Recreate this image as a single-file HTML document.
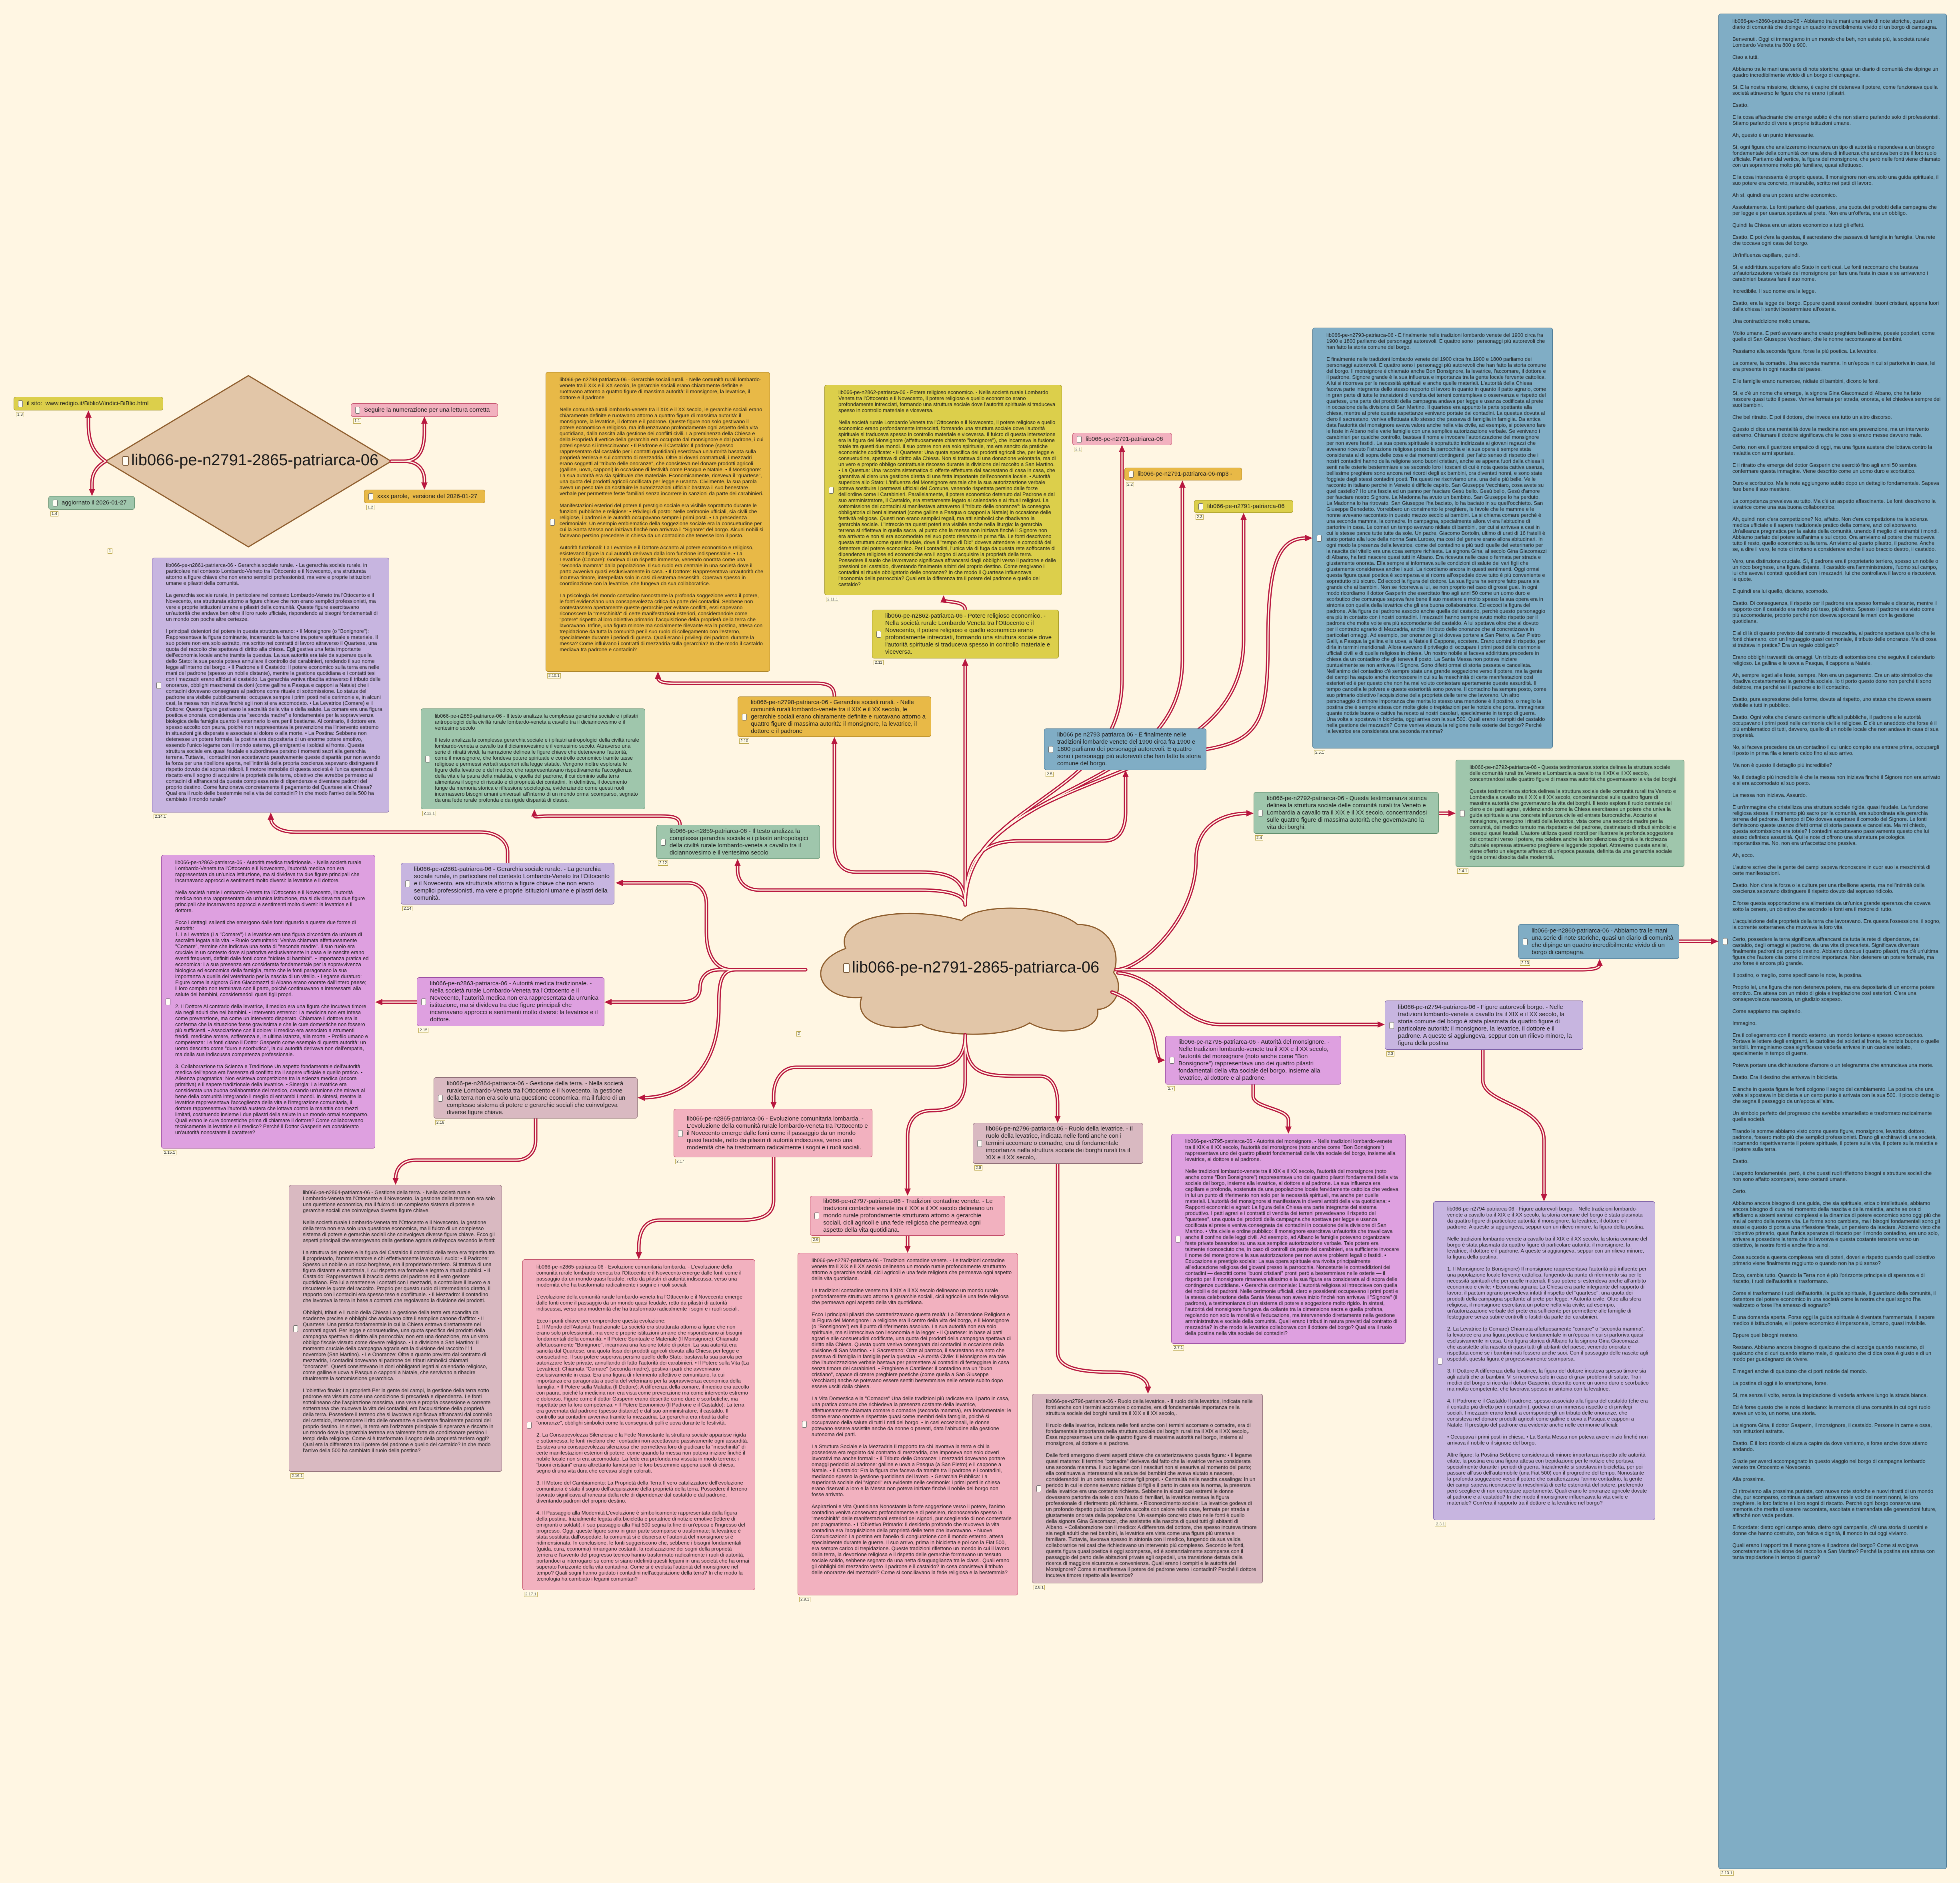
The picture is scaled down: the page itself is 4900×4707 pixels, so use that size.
<!DOCTYPE html>
<html lang="it">
<head>
<meta charset="utf-8">
<style>
html,body{margin:0;padding:0;}
body{width:4900px;height:4707px;background:#fff6e3;position:relative;overflow:hidden;font-family:"Liberation Sans Narrow","Liberation Sans",Arial,sans-serif;color:#1e1e1e;}
svg.wires{position:absolute;left:0;top:0;z-index:1;}
.n{position:absolute;z-index:2;box-sizing:border-box;border:1.5px solid #777;border-radius:6px;overflow:hidden;}
.d{font-size:13px;line-height:15px;padding:10px 14px 8px 34px;}
.d p{margin:0 0 15px 0;}
.s{font-size:15px;line-height:18px;padding:6px 10px 6px 32px;display:flex;align-items:center;}
.n::before{content:"";position:absolute;left:10px;top:50%;width:10px;height:15px;margin-top:-8px;background:#fffdf6;border:1.5px solid #666;border-radius:3px;}
.or{background:#e8b947;border-color:#a77d1e;}
.ye{background:#dccf4b;border-color:#9d9222;}
.pk{background:#f2b1bf;border-color:#c04764;}
.bl{background:#80adc5;border-color:#41708c;}
.gr{background:#9fc6ac;border-color:#5d8c6b;}
.pu{background:#c7b5e0;border-color:#7a5ea6;}
.mg{background:#dea0e0;border-color:#9b4da2;}
.rb{background:#d9b9c1;border-color:#8c6b74;}
.lb{position:absolute;z-index:2;font-size:10px;line-height:11px;padding:0 2px;border:1px solid #b9a548;background:#fffbe6;color:#333;font-family:"Liberation Sans Narrow","Liberation Sans",sans-serif;}
.big{position:absolute;z-index:3;font-size:40px;white-space:nowrap;color:#1a1a1a;}
.big::before{content:"";display:inline-block;width:12px;height:20px;border:2px solid #7a5a3a;border-radius:3px;background:#fffdf6;margin-right:6px;vertical-align:middle;}
</style>
</head>
<body>

<svg class="wires" width="4900" height="4707" viewBox="0 0 4900 4707">
<defs>
<g id="w">
<path d="M264 1153 C230 1130 221 1100 221 1060 L221 1040"/>
<path d="M264 1153 C235 1170 230 1190 230 1210 L230 1225"/>
<path d="M978 1153 L1010 1153 C1050 1153 1061 1120 1061 1080 L1061 1055"/>
<path d="M978 1153 L1010 1153 C1050 1153 1061 1180 1061 1200 L1061 1210"/>
<path d="M2413 2262 L2413 1660"/>
<path d="M2413 2262 C2413 2000 2805 2000 2805 1700 L2805 1126"/>
<path d="M2413 2262 C2413 1950 2956 2000 2956 1650 L2956 1215"/>
<path d="M2413 2262 C2413 1900 3109 2000 3109 1600 L3109 1296"/>
<path d="M2413 2262 C2413 2150 2450 2102 2550 2102 L2760 2102 C2800 2102 2814 2070 2814 2030 L2814 1939"/>
<path d="M2413 2262 C2413 2200 2380 2180 2300 2180 L2140 2180 C2100 2180 2086 2150 2086 2110 L2086 1856"/>
<path d="M2413 2262 C2413 2240 2380 2225 2300 2225 L1900 2225 C1860 2225 1844 2200 1844 2175 L1844 2161"/>
<path d="M2014 2424 L1830 2424 C1790 2424 1766 2390 1766 2330 L1766 2260 C1766 2230 1750 2207 1720 2207 L1553 2207"/>
<path d="M2014 2424 L1800 2424 C1760 2424 1750 2450 1750 2470 C1750 2495 1730 2505 1700 2505 L1525 2505"/>
<path d="M2014 2424 L1840 2424 C1800 2424 1797 2460 1797 2520 C1797 2680 1700 2744 1608 2744"/>
<path d="M1042 2505 L952 2505"/>
<path d="M1339 2796 L1339 2850 C1339 2880 1320 2900 1290 2900 L1040 2900 C1005 2900 989 2920 989 2948"/>
<path d="M1269 2157 L1269 2130 C1269 2100 1240 2080 1200 2080 L740 2080 C700 2080 677 2065 677 2045"/>
<path d="M1700 2062 C1700 2042 1680 2040 1650 2040 L1370 2040 C1345 2040 1336 2045 1336 2037"/>
<path d="M2086 1741 C2086 1715 2070 1708 2040 1708 L1690 1708 C1660 1708 1645 1705 1645 1693"/>
<path d="M2413 1524 C2413 1505 2380 1505 2359 1502"/>
<path d="M3016 1873 C3150 1850 3170 1800 3170 1600 C3170 1400 3200 1345 3267 1345"/>
<path d="M2790 2424 C2850 2424 2990 2300 2990 2150 C2990 2060 3060 2033 3120 2033"/>
<path d="M3597 2033 L3625 2033"/>
<path d="M2795 2424 L3950 2424 C3985 2424 3999 2420 3999 2411"/>
<path d="M4198 2353 L4282 2353"/>
<path d="M2795 2432 C2900 2440 2950 2561 3050 2561 L3448 2561"/>
<path d="M2780 2480 C2860 2510 2880 2560 2890 2620 C2895 2645 2900 2650 2899 2650"/>
<path d="M3707 2624 L3707 2700 C3707 2760 3860 2760 3860 2850 L3860 2989"/>
<path d="M3133 2711 L3133 2740 C3133 2770 3221 2770 3221 2800 L3221 2820"/>
<path d="M2413 2587 C2413 2680 2450 2690 2540 2690 L2600 2690 C2630 2690 2644 2720 2644 2760 L2644 2793"/>
<path d="M2644 2909 L2644 3380 C2644 3420 2700 3430 2780 3430 C2840 3430 2870 3445 2870 3470"/>
<path d="M2413 2587 L2413 2700 C2413 2760 2380 2776 2330 2776 C2290 2776 2269 2800 2269 2840 L2269 2975"/>
<path d="M2269 3089 L2269 3118"/>
<path d="M2413 2587 C2413 2640 2390 2668 2330 2668 L1990 2668 C1955 2668 1934 2700 1934 2740 L1934 2758"/>
<path d="M1934 2893 L1934 3000 C1934 3040 1900 3050 1850 3050 L1650 3050 C1610 3050 1597 3080 1597 3120 L1597 3134"/>
</g>
</defs>
<polygon points="621,939 978,1153 621,1367 264,1153" fill="#e2c6a8" stroke="#8f5e2e" stroke-width="3"/>
<path transform="translate(2014,2261)" d="M100 110 C70 30 250 0 390 40 C430 -5 620 0 680 50 C760 50 790 120 770 170 C800 210 770 262 730 262 C740 322 620 330 560 296 C500 336 330 330 290 300 C200 322 120 292 140 232 C40 242 -10 150 100 110 Z" fill="#e2c6a8" stroke="#8f5e2e" stroke-width="3"/>
<use href="#w" fill="none" stroke="#b8173f" stroke-width="9" stroke-linecap="round" stroke-linejoin="round"/>
<use href="#w" fill="none" stroke="#fff6e3" stroke-width="3" stroke-linecap="round" stroke-linejoin="round"/>
<g fill="#b8173f">
<polygon points="221,1026 213,1044 229,1044"/>
<polygon points="230,1240 222,1222 238,1222"/>
<polygon points="1061,1041 1053,1059 1069,1059"/>
<polygon points="1061,1224 1053,1206 1069,1206"/>
<polygon points="2413,1646 2405,1664 2421,1664"/>
<polygon points="2805,1112 2797,1130 2813,1130"/>
<polygon points="2956,1201 2948,1219 2964,1219"/>
<polygon points="3109,1282 3101,1300 3117,1300"/>
<polygon points="2814,1925 2806,1943 2822,1943"/>
<polygon points="2086,1842 2078,1860 2094,1860"/>
<polygon points="1844,2147 1836,2165 1852,2165"/>
<polygon points="1539,2207 1557,2199 1557,2215"/>
<polygon points="1511,2505 1529,2497 1529,2513"/>
<polygon points="1594,2744 1612,2736 1612,2752"/>
<polygon points="938,2505 956,2497 956,2513"/>
<polygon points="989,2962 981,2944 997,2944"/>
<polygon points="677,2031 669,2049 685,2049"/>
<polygon points="1336,2023 1328,2041 1344,2041"/>
<polygon points="1645,1679 1637,1697 1653,1697"/>
<polygon points="2359,1488 2351,1506 2367,1506"/>
<polygon points="3281,1345 3263,1337 3263,1353"/>
<polygon points="3134,2033 3116,2025 3116,2041"/>
<polygon points="3639,2033 3621,2025 3621,2041"/>
<polygon points="3999,2397 3991,2415 4007,2415"/>
<polygon points="4296,2353 4278,2345 4278,2361"/>
<polygon points="3462,2561 3444,2553 3444,2569"/>
<polygon points="2913,2650 2895,2642 2895,2658"/>
<polygon points="3860,3003 3852,2985 3868,2985"/>
<polygon points="3221,2834 3213,2816 3229,2816"/>
<polygon points="2644,2807 2636,2789 2652,2789"/>
<polygon points="2870,3484 2862,3466 2878,3466"/>
<polygon points="2269,2989 2261,2971 2277,2971"/>
<polygon points="2269,3132 2261,3114 2277,3114"/>
<polygon points="1934,2772 1926,2754 1942,2754"/>
<polygon points="1597,3148 1589,3130 1605,3130"/>
</g>
</svg>

<div class="big" style="left:306px;top:1128px;">lib066-pe-n2791-2865-patriarca-06</div>
<div class="big" style="left:2108px;top:2396px;">lib066-pe-n2791-2865-patriarca-06</div>
<div class="lb" style="left:269px;top:1371px;">1</div>
<div class="lb" style="left:1991px;top:2578px;">2</div>

<div class="n s ye" style="left:34px;top:992px;width:374px;height:34px;">il sito:&nbsp; www.redigio.it/BiblioV/indici-BiBlio.html</div>
<div class="lb" style="left:40px;top:1030px;">1.3</div>
<div class="n s pk" style="left:877px;top:1008px;width:368px;height:34px;">Seguire la numerazione per una lettura corretta</div>
<div class="lb" style="left:883px;top:1046px;">1.1</div>
<div class="n s or" style="left:910px;top:1224px;width:303px;height:34px;">xxxx parole,&nbsp; versione del 2026-01-27</div>
<div class="lb" style="left:916px;top:1262px;">1.2</div>
<div class="n s gr" style="left:121px;top:1240px;width:216px;height:34px;">aggiornato il 2026-01-27</div>
<div class="lb" style="left:126px;top:1278px;">1.4</div>

<div class="n s pk" style="left:2681px;top:1082px;width:249px;height:31px;">lib066-pe-n2791-patriarca-06</div>
<div class="lb" style="left:2685px;top:1117px;">2.1</div>
<div class="n s or" style="left:2811px;top:1169px;width:294px;height:32px;">lib066-pe-n2791-patriarca-06-mp3 -</div>
<div class="lb" style="left:2815px;top:1205px;">2.2</div>
<div class="n s ye" style="left:2985px;top:1250px;width:248px;height:32px;">lib066-pe-n2791-patriarca-06</div>
<div class="lb" style="left:2989px;top:1286px;">2.3</div>

<div class="n s ye" style="left:2180px;top:1524px;width:467px;height:122px;">lib066-pe-n2862-patriarca-06 - Potere religioso economico. - Nella società rurale Lombardo Veneta tra l'Ottocento e il Novecento, il potere religioso e quello economico erano profondamente intrecciati, formando una struttura sociale dove l'autorità spirituale si traduceva spesso in controllo materiale e viceversa.</div>
<div class="lb" style="left:2184px;top:1650px;">2.11</div>

<div class="n s bl" style="left:2610px;top:1821px;width:406px;height:104px;">lib066 pe n2793 patriarca 06 - E finalmente nelle tradizioni lombarde venete del 1900 circa fra 1900 e 1800 parliamo dei personaggi autorevoli. E quattro sono i personaggi più autorevoli che han fatto la storia comune del borgo.</div>
<div class="lb" style="left:2614px;top:1929px;">2.5</div>

<div class="n s or" style="left:1844px;top:1741px;width:484px;height:101px;">lib066-pe-n2798-patriarca-06 - Gerarchie sociali rurali. - Nelle comunità rurali lombardo-venete tra il XIX e il XX secolo, le gerarchie sociali erano chiaramente definite e ruotavano attorno a quattro figure di massima autorità: il monsignore, la levatrice, il dottore e il padrone</div>
<div class="lb" style="left:1848px;top:1846px;">2.10</div>

<div class="n s gr" style="left:1641px;top:2062px;width:409px;height:85px;">lib066-pe-n2859-patriarca-06 - Il testo analizza la complessa gerarchia sociale e i pilastri antropologici della civiltà rurale lombardo-veneta a cavallo tra il diciannovesimo e il ventesimo secolo</div>
<div class="lb" style="left:1645px;top:2151px;">2.12</div>

<div class="n s pu" style="left:1002px;top:2157px;width:534px;height:104px;">lib066-pe-n2861-patriarca-06 - Gerarchia sociale rurale. - La gerarchia sociale rurale, in particolare nel contesto Lombardo-Veneto tra l'Ottocento e il Novecento, era strutturata attorno a figure chiave che non erano semplici professionisti, ma vere e proprie istituzioni umane e pilastri della comunità.</div>
<div class="lb" style="left:1006px;top:2265px;">2.14</div>

<div class="n s gr" style="left:3134px;top:1980px;width:463px;height:104px;">lib066-pe-n2792-patriarca-06 - Questa testimonianza storica delinea la struttura sociale delle comunità rurali tra Veneto e Lombardia a cavallo tra il XIX e il XX secolo, concentrandosi sulle quattro figure di massima autorità che governavano la vita dei borghi.</div>
<div class="lb" style="left:3138px;top:2088px;">2.4</div>

<div class="n s bl" style="left:3796px;top:2310px;width:402px;height:87px;">lib066-pe-n2860-patriarca-06 - Abbiamo tra le mani una serie di note storiche, quasi un diario di comunità che dipinge un quadro incredibilmente vivido di un borgo di campagna.</div>
<div class="lb" style="left:3800px;top:2401px;">2.13</div>

<div class="n s pu" style="left:3462px;top:2501px;width:496px;height:123px;">lib066-pe-n2794-patriarca-06 - Figure autorevoli borgo. - Nelle tradizioni lombardo-venete a cavallo tra il XIX e il XX secolo, la storia comune del borgo è stata plasmata da quattro figure di particolare autorità: il monsignore, la levatrice, il dottore e il padrone. A queste si aggiungeva, seppur con un rilievo minore, la figura della postina</div>
<div class="lb" style="left:3466px;top:2628px;">2.3</div>

<div class="n s mg" style="left:2913px;top:2589px;width:440px;height:122px;">lib066-pe-n2795-patriarca-06 - Autorità del monsignore. - Nelle tradizioni lombardo-venete tra il XIX e il XX secolo, l'autorità del monsignore (noto anche come "Bon Bonsignore") rappresentava uno dei quattro pilastri fondamentali della vita sociale del borgo, insieme alla levatrice, al dottore e al padrone.</div>
<div class="lb" style="left:2917px;top:2715px;">2.7</div>

<div class="n s rb" style="left:2432px;top:2807px;width:426px;height:102px;">lib066-pe-n2796-patriarca-06 - Ruolo della levatrice. - Il ruolo della levatrice, indicata nelle fonti anche con i termini accomare o comadre, era di fondamentale importanza nella struttura sociale dei borghi rurali tra il XIX e il XX secolo,.</div>
<div class="lb" style="left:2436px;top:2913px;">2.8</div>

<div class="n s mg" style="left:1042px;top:2443px;width:469px;height:122px;">lib066-pe-n2863-patriarca-06 - Autorità medica tradizionale. - Nella società rurale Lombardo-Veneta tra l'Ottocento e il Novecento, l'autorità medica non era rappresentata da un'unica istituzione, ma si divideva tra due figure principali che incarnavano approcci e sentimenti molto diversi: la levatrice e il dottore.</div>
<div class="lb" style="left:1046px;top:2569px;">2.15</div>

<div class="n s rb" style="left:1084px;top:2693px;width:510px;height:103px;">lib066-pe-n2864-patriarca-06 - Gestione della terra. - Nella società rurale Lombardo-Veneta tra l'Ottocento e il Novecento, la gestione della terra non era solo una questione economica, ma il fulcro di un complesso sistema di potere e gerarchie sociali che coinvolgeva diverse figure chiave.</div>
<div class="lb" style="left:1088px;top:2800px;">2.16</div>

<div class="n s pk" style="left:1684px;top:2772px;width:497px;height:121px;">lib066-pe-n2865-patriarca-06 - Evoluzione comunitaria lombarda. - L'evoluzione della comunità rurale lombardo-veneta tra l'Ottocento e il Novecento emerge dalle fonti come il passaggio da un mondo quasi feudale, retto da pilastri di autorità indiscussa, verso una modernità che ha trasformato radicalmente i sogni e i ruoli sociali.</div>
<div class="lb" style="left:1688px;top:2897px;">2.17</div>

<div class="n s pk" style="left:2025px;top:2989px;width:488px;height:100px;">lib066-pe-n2797-patriarca-06 - Tradizioni contadine venete. - Le tradizioni contadine venete tra il XIX e il XX secolo delineano un mondo rurale profondamente strutturato attorno a gerarchie sociali, cicli agricoli e una fede religiosa che permeava ogni aspetto della vita quotidiana.</div>
<div class="lb" style="left:2029px;top:3093px;">2.9</div>

<div class="n d or" style="left:1364px;top:930px;width:561px;height:749px;">
<p>lib066-pe-n2798-patriarca-06 - Gerarchie sociali rurali. - Nelle comunità rurali lombardo-venete tra il XIX e il XX secolo, le gerarchie sociali erano chiaramente definite e ruotavano attorno a quattro figure di massima autorità: il monsignore, la levatrice, il dottore e il padrone</p>
<p>Nelle comunità rurali lombardo-venete tra il XIX e il XX secolo, le gerarchie sociali erano chiaramente definite e ruotavano attorno a quattro figure di massima autorità: il monsignore, la levatrice, il dottore e il padrone. Queste figure non solo gestivano il potere economico e religioso, ma influenzavano profondamente ogni aspetto della vita quotidiana, dalla nascita alla gestione dei conflitti civili. La preminenza della Chiesa e della Proprietà Il vertice della gerarchia era occupato dal monsignore e dal padrone, i cui poteri spesso si intrecciavano: • Il Padrone e il Castaldo: Il padrone (spesso rappresentato dal castaldo per i contatti quotidiani) esercitava un'autorità basata sulla proprietà terriera e sul contratto di mezzadria. Oltre ai doveri contrattuali, i mezzadri erano soggetti al "tributo delle onoranze", che consisteva nel donare prodotti agricoli (galline, uova, capponi) in occasione di festività come Pasqua e Natale. • Il Monsignore: La sua autorità era sia spirituale che materiale. Economicamente, riceveva il "quartese", una quota dei prodotti agricoli codificata per legge e usanza. Civilmente, la sua parola aveva un peso tale da sostituire le autorizzazioni ufficiali: bastava il suo benestare verbale per permettere feste familiari senza incorrere in sanzioni da parte dei carabinieri.</p>
<p>Manifestazioni esteriori del potere Il prestigio sociale era visibile soprattutto durante le funzioni pubbliche e religiose: • Privilegi di posto: Nelle cerimonie ufficiali, sia civili che religiose, i padroni e le autorità occupavano sempre i primi posti. • La precedenza cerimoniale: Un esempio emblematico della soggezione sociale era la consuetudine per cui la Santa Messa non iniziava finché non arrivava il "Signore" del borgo. Alcuni nobili si facevano persino precedere in chiesa da un contadino che tenesse loro il posto.</p>
<p>Autorità funzionali: La Levatrice e il Dottore Accanto al potere economico e religioso, esistevano figure la cui autorità derivava dalla loro funzione indispensabile. • La Levatrice (Comare): Godeva di un rispetto immenso, venendo onorata come una "seconda mamma" dalla popolazione. Il suo ruolo era centrale in una società dove il parto avveniva quasi esclusivamente in casa. • Il Dottore: Rappresentava un'autorità che incuteva timore, interpellata solo in casi di estrema necessità. Operava spesso in coordinazione con la levatrice, che fungeva da sua collaboratrice.</p>
<p>La psicologia del mondo contadino Nonostante la profonda soggezione verso il potere, le fonti evidenziano una consapevolezza critica da parte dei contadini. Sebbene non contestassero apertamente queste gerarchie per evitare conflitti, essi sapevano riconoscere la "meschinità" di certe manifestazioni esteriori, considerandole come "potere" rispetto al loro obiettivo primario: l'acquisizione della proprietà della terra che lavoravano. Infine, una figura minore ma socialmente rilevante era la postina, attesa con trepidazione da tutta la comunità per il suo ruolo di collegamento con l'esterno, specialmente durante i periodi di guerra. Quali erano i privilegi dei padroni durante la messa? Come influivano i contratti di mezzadria sulla gerarchia? In che modo il castaldo mediava tra padrone e contadini?</p>
</div>
<div class="lb" style="left:1368px;top:1683px;">2.10.1</div>

<div class="n d ye" style="left:2061px;top:962px;width:594px;height:526px;">
<p>lib066-pe-n2862-patriarca-06 - Potere religioso economico. - Nella società rurale Lombardo Veneta tra l'Ottocento e il Novecento, il potere religioso e quello economico erano profondamente intrecciati, formando una struttura sociale dove l'autorità spirituale si traduceva spesso in controllo materiale e viceversa.</p>
<p>Nella società rurale Lombardo Veneta tra l'Ottocento e il Novecento, il potere religioso e quello economico erano profondamente intrecciati, formando una struttura sociale dove l'autorità spirituale si traduceva spesso in controllo materiale e viceversa. Il fulcro di questa intersezione era la figura del Monsignore (affettuosamente chiamato "bonignore"), che incarnava la fusione totale tra questi due mondi. Il suo potere non era solo spirituale, ma era sancito da pratiche economiche codificate: • Il Quartese: Una quota specifica dei prodotti agricoli che, per legge e consuetudine, spettava di diritto alla Chiesa. Non si trattava di una donazione volontaria, ma di un vero e proprio obbligo contrattuale riscosso durante la divisione del raccolto a San Martino. • La Questua: Una raccolta sistematica di offerte effettuata dal sacrestano di casa in casa, che garantiva al clero una gestione diretta di una fetta importante dell'economia locale. • Autorità superiore allo Stato: L'influenza del Monsignore era tale che la sua autorizzazione verbale poteva sostituire i permessi ufficiali del Comune, venendo rispettata persino dalle forze dell'ordine come i Carabinieri. Parallelamente, il potere economico detenuto dal Padrone e dal suo amministratore, il Castaldo, era strettamente legato al calendario e ai rituali religiosi. La sottomissione dei contadini si manifestava attraverso il "tributo delle onoranze": la consegna obbligatoria di beni alimentari (come galline a Pasqua o capponi a Natale) in occasione delle festività religiose. Questi non erano semplici regali, ma atti simbolici che ribadivano la gerarchia sociale. L'intreccio tra questi poteri era visibile anche nella liturgia: la gerarchia terrena si rifletteva in quella sacra, al punto che la messa non iniziava finché il Signore non era arrivato e non si era accomodato nel suo posto riservato in prima fila. Le fonti descrivono questa struttura come quasi feudale, dove il "tempo di Dio" doveva attendere le comodità del detentore del potere economico. Per i contadini, l'unica via di fuga da questa rete soffocante di dipendenze religiose ed economiche era il sogno di acquisire la proprietà della terra. Possedere il suolo che lavoravano significava affrancarsi dagli obblighi verso il padrone e dalle pressioni del castaldo, diventando finalmente arbitri del proprio destino. Come reagivano i contadini al rituale obbligatorio delle onoranze? In che modo il Quartese influenzava l'economia della parrocchia? Qual era la differenza tra il potere del padrone e quello del castaldo?</p>
</div>
<div class="lb" style="left:2065px;top:1492px;">2.11.1</div>

<div class="n d bl" style="left:3281px;top:819px;width:601px;height:1052px;">
<p>lib066-pe-n2793-patriarca-06 - E finalmente nelle tradizioni lombardo venete del 1900 circa fra 1900 e 1800 parliamo dei personaggi autorevoli. E quattro sono i personaggi più autorevoli che han fatto la storia comune del borgo.</p>
<p>E finalmente nelle tradizioni lombardo venete del 1900 circa fra 1900 e 1800 parliamo dei personaggi autorevoli. E quattro sono i personaggi più autorevoli che han fatto la storia comune del borgo. Il monsignore è chiamato anche Bon Bonsignore, la levatrice, l'accomare, il dottore e il padrone. Signore grande è la sua influenza e importanza tra la gente locale fervente cattolica. A lui si ricorreva per le necessità spirituali e anche quelle materiali. L'autorità della Chiesa faceva parte integrante dello stesso rapporto di lavoro in quanto in quanto il patto agrario, come in gran parte di tutte le transizioni di vendita dei terreni contemplava o osservanza e rispetto del quartese, una parte dei prodotti della campagna andava per legge e usanza codificata al prete in occasione della divisione di San Martino. Il quartese era appunto la parte spettante alla chiesa, mentre al prete queste aspettanze venivano portate dai contadini. La questua dovuta al clero il sacrestano, veniva effettuata allo stesso che passava di famiglia in famiglia. Da antica data l'autorità del monsignore aveva valore anche nella vita civile, ad esempio, si potevano fare le feste in Albano nelle varie famiglie con una semplice autorizzazione verbale. Se venivano i carabinieri per qualche controllo, bastava il nome e invocare l'autorizzazione del monsignore per non avere fastidi. La sua opera spirituale è soprattutto indirizzata ai giovani ragazzi che avevano ricevuto l'istruzione religiosa presso la parrocchia e la sua opera è sempre stata considerata al di sopra delle cose e dai momenti contingenti, per l'alto senso di rispetto che i nostri contadini hanno della religione sono buoni cristiani, anche se appena fuori dalla chiesa li senti nelle osterie bestemmiare e se secondo loro i toscani di cui è nota questa cattiva usanza, bellissime preghiere sono ancora nei ricordi degli ex bambini, ora diventati nonni, e sono state foggiate dagli stessi contadini poeti. Tra questi ne riscriviamo una, una delle più belle. Ve le racconto in italiano perché in Veneto è difficile capirlo. San Giuseppe Vecchiaro, cosa avete su quel castello? Ho una fascia ed un panno per fasciare Gesù bello. Gesù bello, Gesù d'amore per fasciare nostro Signore. La Madonna ha avuto un bambino. San Giuseppe lo ha perduto. La Madonna lo ha ritrovato. San Giuseppe l'ha baciato, lo ha baciato in su quell'occhietto. San Giuseppe Benedetto. Vorrebbero un consimento le preghiere, le favole che le mamme e le nonne avevano raccontato in questo mezzo secolo ai bambini. La si chiama comare perché è una seconda mamma, la comadre. In campagna, specialmente allora vi era l'abitudine di partorire in casa. Le comari un tempo avevano nidiate di bambini, per cui si arrivava a casi in cui le stesse pance tutte tutte da sole. Un padre, Giacomo Bortolin, ultimo di urati di 16 fratelli è stato portato alla luce della nonna Sara Luroso, ma così del genere erano allora abitudinari. In ogni modo la presenza della levatrice, come del contadino e più tardi quelle del veterinario per la nascita del vitello era una cosa sempre richiesta. La signora Gina, al secolo Gina Giacomazzi di Albano, ha fatti nascere quasi tutti in Albano. Era ricevuta nelle case o fermata per strada e giustamente onorata. Ella sempre si informava sulle condizioni di salute dei vari figli che giustamente considerava anche i suoi. La ricordiamo ancora in questi sentimenti. Oggi ormai questa figura quasi poetica è scomparsa e si ricorre all'ospedale dove tutto è più conveniente e soprattutto più sicuro. Ed eccoci la figura del dottore. La sua figura ha sempre fatto paura sia grande che ai bambini. Non se ricorreva a lui, se non proprio nel caso di grossi guai. In ogni modo ricordiamo il dottor Gasperin che esercitato fino agli anni 50 come un uomo duro e scorbutico che comunque sapeva fare bene il suo mestiere e molto spesso la sua opera era in sintonia con quella della levatrice che gli era buona collaboratrice. Ed eccoci la figura del padrone. Alla figura del padrone associo anche quella del castaldo, perché questo personaggio era più in contatto con i nostri contadini. I mezzadri hanno sempre avuto molto rispetto per il padrone che molte volte era più accomodante del castaldo. A lui spettava oltre che al dovuto per il contratto agrario di Mezzadria, anche il tributo delle onoranze che si concretizzava in particolari omaggi. Ad esempio, per onoranze gli si doveva portare a San Pietro, a San Pietro Galli, a Pasqua la gallina e le uova, a Natale il Cappone, eccetera. Erano uomini di rispetto, per dirla in termini meridionali. Allora avevano il privilegio di occupare i primi posti delle cerimonie ufficiali civili e di quelle religiose in chiesa. Un nostro nobile si faceva addirittura precedere in chiesa da un contadino che gli teneva il posto. La Santa Messa non poteva iniziare puntualmente se non arrivava il Signore. Sono difetti ormai di storia passata e cancellata. Nell'animo del contadino c'è sempre stata una grande soggezione verso il potere, ma la gente dei campi ha saputo anche riconoscere in cui su la meschinità di certe manifestazioni così esteriori ed è per questo che non ha mai voluto contestare apertamente queste assurdità. Il tempo cancella le polvere e queste esteriorità sono povere. Il contadino ha sempre posto, come suo primario obiettivo l'acquisizione della proprietà delle terre che lavorano. Un altro personaggio di minore importanza che merita lo stesso una menzione è il postino, o meglio la postina che è sempre attesa con molte gioie o trepidazioni per le notizie che porta. Immaginate quante notizie buone o cattive ha recato ai nostri casolari, specialmente in tempo di guerra. Una volta si spostava in bicicletta, oggi arriva con la sua 500. Quali erano i compiti del castaldo nella gestione dei mezzadri? Come veniva vissuta la religione nelle osterie del borgo? Perché la levatrice era considerata una seconda mamma?</p>
</div>
<div class="lb" style="left:3285px;top:1875px;">2.5.1</div>

<div class="n d gr" style="left:1052px;top:1771px;width:561px;height:252px;">
<p>lib066-pe-n2859-patriarca-06 - Il testo analizza la complessa gerarchia sociale e i pilastri antropologici della civiltà rurale lombardo-veneta a cavallo tra il diciannovesimo e il ventesimo secolo</p>
<p>Il testo analizza la complessa gerarchia sociale e i pilastri antropologici della civiltà rurale lombardo-veneta a cavallo tra il diciannovesimo e il ventesimo secolo. Attraverso una serie di ritratti vividi, la narrazione delinea le figure chiave che detenevano l'autorità, come il monsignore, che fondeva potere spirituale e controllo economico tramite tasse religiose e permessi verbali superiori alla legge statale. Vengono inoltre esplorate le figure della levatrice e del medico, che rappresentavano rispettivamente l'accoglienza della vita e la paura della malattia, e quella del padrone, il cui dominio sulla terra alimentava il sogno di riscatto e di proprietà dei contadini. In definitiva, il documento funge da memoria storica e riflessione sociologica, evidenziando come questi ruoli incarnassero bisogni umani universali all'interno di un mondo ormai scomparso, segnato da una fede rurale profonda e da rigide disparità di classe.</p>
</div>
<div class="lb" style="left:1056px;top:2027px;">2.12.1</div>

<div class="n d pu" style="left:380px;top:1394px;width:593px;height:637px;">
<p>lib066-pe-n2861-patriarca-06 - Gerarchia sociale rurale. - La gerarchia sociale rurale, in particolare nel contesto Lombardo-Veneto tra l'Ottocento e il Novecento, era strutturata attorno a figure chiave che non erano semplici professionisti, ma vere e proprie istituzioni umane e pilastri della comunità.</p>
<p>La gerarchia sociale rurale, in particolare nel contesto Lombardo-Veneto tra l'Ottocento e il Novecento, era strutturata attorno a figure chiave che non erano semplici professionisti, ma vere e proprie istituzioni umane e pilastri della comunità. Queste figure esercitavano un'autorità che andava ben oltre il loro ruolo ufficiale, rispondendo ai bisogni fondamentali di un mondo con poche altre certezze.</p>
<p>I principali detentori del potere in questa struttura erano: • Il Monsignore (o "Bonignore"): Rappresentava la figura dominante, incarnando la fusione tra potere spirituale e materiale. Il suo potere non era solo astratto, ma scritto nei contratti di lavoro attraverso il Quartese, una quota del raccolto che spettava di diritto alla chiesa. Egli gestiva una fetta importante dell'economia locale anche tramite la questua. La sua autorità era tale da superare quella dello Stato: la sua parola poteva annullare il controllo dei carabinieri, rendendo il suo nome legge all'interno del borgo. • Il Padrone e il Castaldo: Il potere economico sulla terra era nelle mani del padrone (spesso un nobile distante), mentre la gestione quotidiana e i contatti tesi con i mezzadri erano affidati al castaldo. La gerarchia veniva ribadita attraverso il tributo delle onoranze, obblighi mascherati da doni (come galline a Pasqua e capponi a Natale) che i contadini dovevano consegnare al padrone come rituale di sottomissione. Lo status del padrone era visibile pubblicamente: occupava sempre i primi posti nelle cerimonie e, in alcuni casi, la messa non iniziava finché egli non si era accomodato. • La Levatrice (Comare) e il Dottore: Queste figure gestivano la sacralità della vita e della salute. La comare era una figura poetica e onorata, considerata una "seconda madre" e fondamentale per la sopravvivenza biologica della famiglia quanto il veterinario lo era per il bestiame. Al contrario, il dottore era spesso accolto con paura, poiché non rappresentava la prevenzione ma l'intervento estremo in situazioni già disperate e associate al dolore o alla morte. • La Postina: Sebbene non detenesse un potere formale, la postina era depositaria di un enorme potere emotivo, essendo l'unico legame con il mondo esterno, gli emigranti e i soldati al fronte. Questa struttura sociale era quasi feudale e subordinava persino i momenti sacri alla gerarchia terrena. Tuttavia, i contadini non accettavano passivamente queste disparità: pur non avendo la forza per una ribellione aperta, nell'intimità della propria coscienza sapevano distinguere il rispetto dovuto dai soprusi ridicoli. Il motore immobile di questa società è l'unica speranza di riscatto era il sogno di acquisire la proprietà della terra, obiettivo che avrebbe permesso ai contadini di affrancarsi da questa complessa rete di dipendenze e diventare padroni del proprio destino. Come funzionava concretamente il pagamento del Quartese alla Chiesa? Qual era il ruolo delle bestemmie nella vita dei contadini? In che modo l'arrivo della 500 ha cambiato il mondo rurale?</p>
</div>
<div class="lb" style="left:384px;top:2035px;">2.14.1</div>

<div class="n d mg" style="left:403px;top:2137px;width:535px;height:734px;">
<p>lib066-pe-n2863-patriarca-06 - Autorità medica tradizionale. - Nella società rurale Lombardo-Veneta tra l'Ottocento e il Novecento, l'autorità medica non era rappresentata da un'unica istituzione, ma si divideva tra due figure principali che incarnavano approcci e sentimenti molto diversi: la levatrice e il dottore.</p>
<p>Nella società rurale Lombardo-Veneta tra l'Ottocento e il Novecento, l'autorità medica non era rappresentata da un'unica istituzione, ma si divideva tra due figure principali che incarnavano approcci e sentimenti molto diversi: la levatrice e il dottore.</p>
<p>Ecco i dettagli salienti che emergono dalle fonti riguardo a queste due forme di autorità:<br>1. La Levatrice (La "Comare") La levatrice era una figura circondata da un'aura di sacralità legata alla vita. • Ruolo comunitario: Veniva chiamata affettuosamente "Comare", termine che indicava una sorta di "seconda madre". Il suo ruolo era cruciale in un contesto dove si partoriva esclusivamente in casa e le nascite erano eventi frequenti, definiti dalle fonti come "nidiate di bambini". • Importanza pratica ed economica: La sua presenza era considerata fondamentale per la sopravvivenza biologica ed economica della famiglia, tanto che le fonti paragonano la sua importanza a quella del veterinario per la nascita di un vitello. • Legame duraturo: Figure come la signora Gina Giacomazzi di Albano erano onorate dall'intero paese; il loro compito non terminava con il parto, poiché continuavano a interessarsi alla salute dei bambini, considerandoli quasi figli propri.</p>
<p>2. Il Dottore Al contrario della levatrice, il medico era una figura che incuteva timore sia negli adulti che nei bambini. • Intervento estremo: La medicina non era intesa come prevenzione, ma come un intervento disperato. Chiamare il dottore era la conferma che la situazione fosse gravissima e che le cure domestiche non fossero più sufficienti. • Associazione con il dolore: Il medico era associato a strumenti freddi, medicine amare, sofferenza e, in ultima istanza, alla morte. • Profilo umano e competenza: Le fonti citano il Dottor Gasperin come esempio di questa autorità: un uomo descritto come "duro e scorbutico", la cui autorità derivava non dall'empatia, ma dalla sua indiscussa competenza professionale.</p>
<p>3. Collaborazione tra Scienza e Tradizione Un aspetto fondamentale dell'autorità medica dell'epoca era l'assenza di conflitto tra il sapere ufficiale e quello pratico. • Alleanza pragmatica: Non esisteva competizione tra la scienza medica (ancora primitiva) e il sapere tradizionale della levatrice. • Sinergia: La levatrice era considerata una buona collaboratrice del medico, creando un'unione che mirava al bene della comunità integrando il meglio di entrambi i mondi. In sintesi, mentre la levatrice rappresentava l'accoglienza della vita e l'integrazione comunitaria, il dottore rappresentava l'autorità austera che lottava contro la malattia con mezzi limitati, costituendo insieme i due pilastri della salute in un mondo ormai scomparso. Quali erano le cure domestiche prima di chiamare il dottore? Come collaboravano tecnicamente la levatrice e il medico? Perché il Dottor Gasperin era considerato un'autorità nonostante il carattere?</p>
</div>
<div class="lb" style="left:407px;top:2875px;">2.15.1</div>

<div class="n d gr" style="left:3639px;top:1899px;width:572px;height:268px;">
<p>lib066-pe-n2792-patriarca-06 - Questa testimonianza storica delinea la struttura sociale delle comunità rurali tra Veneto e Lombardia a cavallo tra il XIX e il XX secolo, concentrandosi sulle quattro figure di massima autorità che governavano la vita dei borghi.</p>
<p>Questa testimonianza storica delinea la struttura sociale delle comunità rurali tra Veneto e Lombardia a cavallo tra il XIX e il XX secolo, concentrandosi sulle quattro figure di massima autorità che governavano la vita dei borghi. Il testo esplora il ruolo centrale del clero e dei patti agrari, evidenziando come la Chiesa esercitasse un potere che univa la guida spirituale a una concreta influenza civile ed entrate burocratiche. Accanto al monsignore, emergono i ritratti della levatrice, vista come una seconda madre per la comunità, del medico temuto ma rispettato e del padrone, destinatario di tributi simbolici e ossequi quasi feudali. L'autore utilizza questi ricordi per illustrare la profonda soggezione dei contadini verso il potere, ma celebra anche la loro silenziosa dignità e la ricchezza culturale espressa attraverso preghiere e leggende popolari. Attraverso questa analisi, viene offerto un elegante affresco di un'epoca passata, definita da una gerarchia sociale rigida ormai dissolta dalla modernità.</p>
</div>
<div class="lb" style="left:3643px;top:2171px;">2.4.1</div>

<div class="n d mg" style="left:2928px;top:2834px;width:586px;height:525px;">
<p>lib066-pe-n2795-patriarca-06 - Autorità del monsignore. - Nelle tradizioni lombardo-venete tra il XIX e il XX secolo, l'autorità del monsignore (noto anche come "Bon Bonsignore") rappresentava uno dei quattro pilastri fondamentali della vita sociale del borgo, insieme alla levatrice, al dottore e al padrone.</p>
<p>Nelle tradizioni lombardo-venete tra il XIX e il XX secolo, l'autorità del monsignore (noto anche come "Bon Bonsignore") rappresentava uno dei quattro pilastri fondamentali della vita sociale del borgo, insieme alla levatrice, al dottore e al padrone. La sua influenza era capillare e profonda, sostenuta da una popolazione locale fervidamente cattolica che vedeva in lui un punto di riferimento non solo per le necessità spirituali, ma anche per quelle materiali. L'autorità del monsignore si manifestava in diversi ambiti della vita quotidiana: • Rapporti economici e agrari: La figura della Chiesa era parte integrante del sistema produttivo. I patti agrari e i contratti di vendita dei terreni prevedevano il rispetto del "quartese", una quota dei prodotti della campagna che spettava per legge e usanza codificata al prete e veniva consegnata dai contadini in occasione della divisione di San Martino. • Vita civile e ordine pubblico: Il monsignore esercitava un'autorità che travalicava anche il confine delle leggi civili. Ad esempio, ad Albano le famiglie potevano organizzare feste private basandosi su una sua semplice autorizzazione verbale. Tale potere era talmente riconosciuto che, in caso di controlli da parte dei carabinieri, era sufficiente invocare il nome del monsignore e la sua autorizzazione per non avere problemi legali o fastidi. • Educazione e prestigio sociale: La sua opera spirituale era rivolta principalmente all'educazione religiosa dei giovani presso la parrocchia. Nonostante le contraddizioni dei contadini — descritti come "buoni cristiani" pronti però a bestemmiare nelle osterie — il rispetto per il monsignore rimaneva altissimo e la sua figura era considerata al di sopra delle contingenze quotidiane. • Gerarchia cerimoniale: L'autorità religiosa si intrecciava con quella dei nobili e dei padroni. Nelle cerimonie ufficiali, clero e possidenti occupavano i primi posti e la stessa celebrazione della Santa Messa non aveva inizio finché non arrivava il "Signore" (il padrone), a testimonianza di un sistema di potere e soggezione molto rigido. In sintesi, l'autorità del monsignore fungeva da collante tra la dimensione sacra e quella profana, regolando non solo la moralità e l'educazione, ma intervenendo direttamente nella gestione amministrativa e sociale della comunità. Quali erano i tributi in natura previsti dal contratto di mezzadria? In che modo la levatrice collaborava con il dottore del borgo? Qual era il ruolo della postina nella vita sociale dei contadini?</p>
</div>
<div class="lb" style="left:2932px;top:3363px;">2.7.1</div>

<div class="n d pu" style="left:3583px;top:3003px;width:555px;height:797px;">
<p>lib066-pe-n2794-patriarca-06 - Figure autorevoli borgo. - Nelle tradizioni lombardo-venete a cavallo tra il XIX e il XX secolo, la storia comune del borgo è stata plasmata da quattro figure di particolare autorità: il monsignore, la levatrice, il dottore e il padrone. A queste si aggiungeva, seppur con un rilievo minore, la figura della postina.</p>
<p>Nelle tradizioni lombardo-venete a cavallo tra il XIX e il XX secolo, la storia comune del borgo è stata plasmata da quattro figure di particolare autorità: il monsignore, la levatrice, il dottore e il padrone. A queste si aggiungeva, seppur con un rilievo minore, la figura della postina.</p>
<p>1. Il Monsignore (o Bonsignore) Il monsignore rappresentava l'autorità più influente per una popolazione locale fervente cattolica, fungendo da punto di riferimento sia per le necessità spirituali che per quelle materiali. Il suo potere si estendeva anche all'ambito economico e civile: • Economia agraria: La Chiesa era parte integrante del rapporto di lavoro; il pactum agrario prevedeva infatti il rispetto del "quartese", una quota dei prodotti della campagna spettante al prete per legge. • Autorità civile: Oltre alla sfera religiosa, il monsignore esercitava un potere nella vita civile; ad esempio, un'autorizzazione verbale del prete era sufficiente per permettere alle famiglie di festeggiare senza subire controlli o fastidi da parte dei carabinieri.</p>
<p>2. La Levatrice (o Comare) Chiamata affettuosamente "comare" o "seconda mamma", la levatrice era una figura poetica e fondamentale in un'epoca in cui si partoriva quasi esclusivamente in casa. Una figura storica di Albano fu la signora Gina Giacomazzi, che assistette alla nascita di quasi tutti gli abitanti del paese, venendo onorata e rispettata come se i bambini nati fossero anche suoi. Con il passaggio delle nascite agli ospedali, questa figura è progressivamente scomparsa.</p>
<p>3. Il Dottore A differenza della levatrice, la figura del dottore incuteva spesso timore sia agli adulti che ai bambini. Vi si ricorreva solo in caso di gravi problemi di salute. Tra i medici del borgo si ricorda il dottor Gasperin, descritto come un uomo duro e scorbutico ma molto competente, che lavorava spesso in sintonia con la levatrice.</p>
<p>4. Il Padrone e il Castaldo Il padrone, spesso associato alla figura del castaldo (che era il contatto più diretto per i contadini), godeva di un immenso rispetto e di privilegi sociali. I mezzadri erano tenuti a corrispondergli un tributo delle onoranze, che consisteva nel donare prodotti agricoli come galline e uova a Pasqua e capponi a Natale. Il prestigio del padrone era evidente anche nelle cerimonie ufficiali:</p>
<p>• Occupava i primi posti in chiesa. • La Santa Messa non poteva avere inizio finché non arrivava il nobile o il signore del borgo.</p>
<p>Altre figure: la Postina Sebbene considerata di minore importanza rispetto alle autorità citate, la postina era una figura attesa con trepidazione per le notizie che portava, specialmente durante i periodi di guerra. Inizialmente si spostava in bicicletta, per poi passare all'uso dell'automobile (una Fiat 500) con il progredire del tempo. Nonostante la profonda soggezione verso il potere che caratterizzava l'animo contadino, la gente dei campi sapeva riconoscere la meschinità di certe esteriorità del potere, preferendo però scegliere di non contestare apertamente. Quali erano le onoranze agricole dovute al padrone e al castaldo? In che modo il monsignore influenzava la vita civile e materiale? Com'era il rapporto tra il dottore e la levatrice nel borgo?</p>
</div>
<div class="lb" style="left:3587px;top:3804px;">2.3.1</div>

<div class="n d rb" style="left:2580px;top:3484px;width:577px;height:474px;">
<p>lib066-pe-n2796-patriarca-06 - Ruolo della levatrice. - Il ruolo della levatrice, indicata nelle fonti anche con i termini accomare o comadre, era di fondamentale importanza nella struttura sociale dei borghi rurali tra il XIX e il XX secolo,.</p>
<p>Il ruolo della levatrice, indicata nelle fonti anche con i termini accomare o comadre, era di fondamentale importanza nella struttura sociale dei borghi rurali tra il XIX e il XX secolo,. Essa rappresentava una delle quattro figure di massima autorità nel borgo, insieme al monsignore, al dottore e al padrone.</p>
<p>Dalle fonti emergono diversi aspetti chiave che caratterizzavano questa figura: • Il legame quasi materno: Il termine "comadre" derivava dal fatto che la levatrice veniva considerata una seconda mamma. Il suo legame con i nascituri non si esauriva al momento del parto; ella continuava a interessarsi alla salute dei bambini che aveva aiutato a nascere, considerandoli in un certo senso come figli propri. • Centralità nella nascita casalinga: In un periodo in cui le donne avevano nidiate di figli e il parto in casa era la norma, la presenza della levatrice era una costante richiesta. Sebbene in alcuni casi estremi le donne dovessero partorire da sole o con l'aiuto di familiari, la levatrice restava la figura professionale di riferimento più richiesta. • Riconoscimento sociale: La levatrice godeva di un profondo rispetto pubblico. Veniva accolta con calore nelle case, fermata per strada e giustamente onorata dalla popolazione. Un esempio concreto citato nelle fonti è quello della signora Gina Giacomazzi, che assistette alla nascita di quasi tutti gli abitanti di Albano. • Collaborazione con il medico: A differenza del dottore, che spesso incuteva timore sia negli adulti che nei bambini, la levatrice era vista come una figura più umana e familiare. Tuttavia, lavorava spesso in sintonia con il medico, fungendo da sua valida collaboratrice nei casi che richiedevano un intervento più complesso. Secondo le fonti, questa figura quasi poetica è oggi scomparsa, ed è sostanzialmente scomparsa con il passaggio del parto dalle abitazioni private agli ospedali, una transizione dettata dalla ricerca di maggiore sicurezza e convenienza. Quali erano i compiti e le autorità del Monsignore? Come si manifestava il potere del padrone verso i contadini? Perché il dottore incuteva timore rispetto alla levatrice?</p>
</div>
<div class="lb" style="left:2584px;top:3962px;">2.8.1</div>

<div class="n d pk" style="left:1994px;top:3132px;width:551px;height:856px;">
<p>lib066-pe-n2797-patriarca-06 - Tradizioni contadine venete. - Le tradizioni contadine venete tra il XIX e il XX secolo delineano un mondo rurale profondamente strutturato attorno a gerarchie sociali, cicli agricoli e una fede religiosa che permeava ogni aspetto della vita quotidiana.</p>
<p>Le tradizioni contadine venete tra il XIX e il XX secolo delineano un mondo rurale profondamente strutturato attorno a gerarchie sociali, cicli agricoli e una fede religiosa che permeava ogni aspetto della vita quotidiana.</p>
<p>Ecco i principali pilastri che caratterizzavano questa realtà: La Dimensione Religiosa e la Figura del Monsignore La religione era il centro della vita del borgo, e il Monsignore (o "Bonsignore") era il punto di riferimento assoluto. La sua autorità non era solo spirituale, ma si intrecciava con l'economia e la legge: • Il Quartese: In base ai patti agrari e alle consuetudini codificate, una quota dei prodotti della campagna spettava di diritto alla Chiesa. Questa quota veniva consegnata dai contadini in occasione della divisione di San Martino. • Il Sacrestano: Oltre al parroco, il sacrestano era noto che passava di famiglia in famiglia per la questua. • Autorità Civile: Il Monsignore era tale che l'autorizzazione verbale bastava per permettere ai contadini di festeggiare in casa senza timore dei carabinieri. • Preghiere e Cantilene: Il contadino era un "buon cristiano", capace di creare preghiere poetiche (come quella a San Giuseppe Vecchiaro) anche se potevano essere sentiti bestemmiare nelle osterie subito dopo essere usciti dalla chiesa.</p>
<p>La Vita Domestica e la "Comadre" Una delle tradizioni più radicate era il parto in casa, una pratica comune che richiedeva la presenza costante della levatrice, affettuosamente chiamata comare o comadre (seconda mamma), era fondamentale: le donne erano onorate e rispettate quasi come membri della famiglia, poiché si occupavano della salute di tutti i nati del borgo. • In casi eccezionali, le donne potevano essere assistite anche da nonne o parenti, data l'abitudine alla gestione autonoma dei parti.</p>
<p>La Struttura Sociale e la Mezzadria Il rapporto tra chi lavorava la terra e chi la possedeva era regolato dal contratto di mezzadria, che imponeva non solo doveri lavorativi ma anche formali: • Il Tributo delle Onoranze: I mezzadri dovevano portare omaggi periodici al padrone: galline e uova a Pasqua (a San Pietro) e il cappone a Natale. • Il Castaldo: Era la figura che faceva da tramite tra il padrone e i contadini, mediando spesso la gestione quotidiana del lavoro. • Gerarchia Pubblica: La superiorità sociale dei "signori" era evidente nelle cerimonie: i primi posti in chiesa erano riservati a loro e la Messa non poteva iniziare finché il nobile del borgo non fosse arrivato.</p>
<p>Aspirazioni e Vita Quotidiana Nonostante la forte soggezione verso il potere, l'animo contadino veniva conservato profondamente e di pensiero, riconoscendo spesso la "meschinità" delle manifestazioni esteriori dei signori, pur scegliendo di non contestarle per pragmatismo. • L'Obiettivo Primario: Il desiderio profondo che muoveva la vita contadina era l'acquisizione della proprietà delle terre che lavoravano. • Nuove Comunicazioni: La postina era l'anello di congiunzione con il mondo esterno, attesa specialmente durante le guerre. Il suo arrivo, prima in bicicletta e poi con la Fiat 500, era sempre carico di trepidazione. Queste tradizioni riflettono un mondo in cui il lavoro della terra, la devozione religiosa e il rispetto delle gerarchie formavano un tessuto sociale solido, sebbene segnato da una netta disuguaglianza tra le classi. Quali erano gli obblighi del mezzadro verso il padrone e il castaldo? In cosa consisteva il tributo delle onoranze dei mezzadri? Come si conciliavano la fede religiosa e la bestemmia?</p>
</div>
<div class="lb" style="left:1998px;top:3992px;">2.9.1</div>

<div class="n d pk" style="left:1306px;top:3148px;width:582px;height:827px;">
<p>lib066-pe-n2865-patriarca-06 - Evoluzione comunitaria lombarda. - L'evoluzione della comunità rurale lombardo-veneta tra l'Ottocento e il Novecento emerge dalle fonti come il passaggio da un mondo quasi feudale, retto da pilastri di autorità indiscussa, verso una modernità che ha trasformato radicalmente i sogni e i ruoli sociali.</p>
<p>L'evoluzione della comunità rurale lombardo-veneta tra l'Ottocento e il Novecento emerge dalle fonti come il passaggio da un mondo quasi feudale, retto da pilastri di autorità indiscussa, verso una modernità che ha trasformato radicalmente i sogni e i ruoli sociali.</p>
<p>Ecco i punti chiave per comprendere questa evoluzione:<br>1. Il Mondo dell'Autorità Tradizionale La società era strutturata attorno a figure che non erano solo professionisti, ma vere e proprie istituzioni umane che rispondevano ai bisogni fondamentali della comunità: • Il Potere Spirituale e Materiale (Il Monsignore): Chiamato affettuosamente "Bonignore", incarnava una fusione totale di poteri. La sua autorità era sancita dal Quartese, una quota fissa dei prodotti agricoli dovuta alla Chiesa per legge e consuetudine. Il suo potere superava persino quello dello Stato: bastava la sua parola per autorizzare feste private, annullando di fatto l'autorità dei carabinieri. • Il Potere sulla Vita (La Levatrice): Chiamata "Comare" (seconda madre), gestiva i parti che avvenivano esclusivamente in casa. Era una figura di riferimento affettivo e comunitario, la cui importanza era paragonata a quella del veterinario per la sopravvivenza economica della famiglia. • Il Potere sulla Malattia (Il Dottore): A differenza della comare, il medico era accolto con paura, poiché la medicina non era vista come prevenzione ma come intervento estremo e doloroso. Figure come il dottor Gasperin erano descritte come dure e scorbutiche, ma rispettate per la loro competenza. • Il Potere Economico (Il Padrone e il Castaldo): La terra era governata dal padrone (spesso distante) e dal suo amministratore, il castaldo. Il controllo sui contadini avveniva tramite la mezzadria. La gerarchia era ribadita dalle "onoranze", obblighi simbolici come la consegna di polli e uova durante le festività.</p>
<p>2. La Consapevolezza Silenziosa e la Fede Nonostante la struttura sociale apparisse rigida e sottomessa, le fonti rivelano che i contadini non accettavano passivamente ogni assurdità. Esisteva una consapevolezza silenziosa che permetteva loro di giudicare la "meschinità" di certe manifestazioni esteriori di potere, come quando la messa non poteva iniziare finché il nobile locale non si era accomodato. La fede era profonda ma vissuta in modo terreno: i "buoni cristiani" erano altrettanto famosi per le loro bestemmie appena usciti di chiesa, segno di una vita dura che cercava sfoghi colorati.</p>
<p>3. Il Motore del Cambiamento: La Proprietà della Terra Il vero catalizzatore dell'evoluzione comunitaria è stato il sogno dell'acquisizione della proprietà della terra. Possedere il terreno lavorato significava affrancarsi dalla rete di dipendenze dal castaldo e dal padrone, diventando padroni del proprio destino.</p>
<p>4. Il Passaggio alla Modernità L'evoluzione è simbolicamente rappresentata dalla figura della postina. Inizialmente legata alla bicicletta e portatrice di notizie emotive (lettere di emigranti o soldati), il suo passaggio alla Fiat 500 segna la fine di un'epoca e l'ingresso del progresso. Oggi, queste figure sono in gran parte scomparse o trasformate: la levatrice è stata sostituita dall'ospedale, la comunità si è dispersa e l'autorità del monsignore si è ridimensionata. In conclusione, le fonti suggeriscono che, sebbene i bisogni fondamentali (guida, cura, economia) rimangano costanti, la realizzazione dei sogni della proprietà terriera e l'avvento del progresso tecnico hanno trasformato radicalmente i ruoli di autorità, portandoci a interrogarci su come si siano ridefiniti questi legami in una società che ha ormai superato l'orizzonte della vita contadina. Come si è evoluta l'autorità del monsignore nel tempo? Quali sogni hanno guidato i contadini nell'acquisizione della terra? In che modo la tecnologia ha cambiato i legami comunitari?</p>
</div>
<div class="lb" style="left:1310px;top:3979px;">2.17.1</div>

<div class="n d rb" style="left:722px;top:2962px;width:533px;height:717px;">
<p>lib066-pe-n2864-patriarca-06 - Gestione della terra. - Nella società rurale Lombardo-Veneta tra l'Ottocento e il Novecento, la gestione della terra non era solo una questione economica, ma il fulcro di un complesso sistema di potere e gerarchie sociali che coinvolgeva diverse figure chiave.</p>
<p>Nella società rurale Lombardo-Veneta tra l'Ottocento e il Novecento, la gestione della terra non era solo una questione economica, ma il fulcro di un complesso sistema di potere e gerarchie sociali che coinvolgeva diverse figure chiave. Ecco gli aspetti principali che emergevano dalla gestione agraria dell'epoca secondo le fonti:</p>
<p>La struttura del potere e la figura del Castaldo Il controllo della terra era tripartito tra il proprietario, l'amministratore e chi effettivamente lavorava il suolo: • Il Padrone: Spesso un nobile o un ricco borghese, era il proprietario terriero. Si trattava di una figura distante e autoritaria, il cui rispetto era formale e legato a rituali pubblici. • Il Castaldo: Rappresentava il braccio destro del padrone ed il vero gestore quotidiano. Era lui a mantenere i contatti con i mezzadri, a controllare il lavoro e a riscuotere le quote del raccolto. Proprio per questo ruolo di intermediario diretto, il rapporto con i contadini era spesso teso e conflittuale. • Il Mezzadro: Il contadino che lavorava la terra in base a contratti che regolavano la divisione dei prodotti.</p>
<p>Obblighi, tributi e il ruolo della Chiesa La gestione della terra era scandita da scadenze precise e obblighi che andavano oltre il semplice canone d'affitto: • Il Quartese: Una pratica fondamentale in cui la Chiesa entrava direttamente nei contratti agrari. Per legge e consuetudine, una quota specifica dei prodotti della campagna spettava di diritto alla parrocchia; non era una donazione, ma un vero obbligo fiscale vissuto come dovere religioso. • La divisione a San Martino: Il momento cruciale della campagna agraria era la divisione del raccolto l'11 novembre (San Martino). • Le Onoranze: Oltre a quanto previsto dal contratto di mezzadria, i contadini dovevano al padrone dei tributi simbolici chiamati "onoranze". Questi consistevano in doni obbligatori legati al calendario religioso, come galline e uova a Pasqua o capponi a Natale, che servivano a ribadire ritualmente la sottomissione gerarchica.</p>
<p>L'obiettivo finale: La proprietà Per la gente dei campi, la gestione della terra sotto padrone era vissuta come una condizione di precarietà e dipendenza. Le fonti sottolineano che l'aspirazione massima, una vera e propria ossessione e corrente sotterranea che muoveva la vita dei contadini, era l'acquisizione della proprietà della terra. Possedere il terreno che si lavorava significava affrancarsi dal controllo del castaldo, interrompere il rito delle onoranze e diventare finalmente padroni del proprio destino. In sintesi, la terra era l'orizzonte principale di speranza e riscatto in un mondo dove la gerarchia terrena era talmente forte da condizionare persino i tempi della religione. Come si è trasformato il sogno della proprietà terriera oggi? Qual era la differenza tra il potere del padrone e quello del castaldo? In che modo l'arrivo della 500 ha cambiato il ruolo della postina?</p>
</div>
<div class="lb" style="left:726px;top:3683px;">2.16.1</div>

<div class="n d bl" style="left:4296px;top:34px;width:571px;height:4638px;">
<p>lib066-pe-n2860-patriarca-06 - Abbiamo tra le mani una serie di note storiche, quasi un diario di comunità che dipinge un quadro incredibilmente vivido di un borgo di campagna.</p>
<p>Benvenuti. Oggi ci immergiamo in un mondo che beh, non esiste più, la società rurale Lombardo Veneta tra 800 e 900.</p>
<p>Ciao a tutti.</p>
<p>Abbiamo tra le mani una serie di note storiche, quasi un diario di comunità che dipinge un quadro incredibilmente vivido di un borgo di campagna.</p>
<p>Sì. E la nostra missione, diciamo, è capire chi deteneva il potere, come funzionava quella società attraverso le figure che ne erano i pilastri.</p>
<p>Esatto.</p>
<p>E la cosa affascinante che emerge subito è che non stiamo parlando solo di professionisti. Stiamo parlando di vere e proprie istituzioni umane.</p>
<p>Ah, questo è un punto interessante.</p>
<p>Sì, ogni figura che analizzeremo incarnava un tipo di autorità e rispondeva a un bisogno fondamentale della comunità con una sfera di influenza che andava ben oltre il loro ruolo ufficiale. Partiamo dal vertice, la figura del monsignore, che però nelle fonti viene chiamato con un soprannome molto più familiare, quasi affettuoso.</p>
<p>E la cosa interessante è proprio questa. Il monsignore non era solo una guida spirituale, il suo potere era concreto, misurabile, scritto nei patti di lavoro.</p>
<p>Ah sì, quindi era un potere anche economico.</p>
<p>Assolutamente. Le fonti parlano del quartese, una quota dei prodotti della campagna che per legge e per usanza spettava al prete. Non era un'offerta, era un obbligo.</p>
<p>Quindi la Chiesa era un attore economico a tutti gli effetti.</p>
<p>Esatto. E poi c'era la questua, il sacrestano che passava di famiglia in famiglia. Una rete che toccava ogni casa del borgo.</p>
<p>Un'influenza capillare, quindi.</p>
<p>Sì, e addirittura superiore allo Stato in certi casi. Le fonti raccontano che bastava un'autorizzazione verbale del monsignore per fare una festa in casa e se arrivavano i carabinieri bastava fare il suo nome.</p>
<p>Incredibile. Il suo nome era la legge.</p>
<p>Esatto, era la legge del borgo. Eppure questi stessi contadini, buoni cristiani, appena fuori dalla chiesa li sentivi bestemmiare all'osteria.</p>
<p>Una contraddizione molto umana.</p>
<p>Molto umana. E però avevano anche creato preghiere bellissime, poesie popolari, come quella di San Giuseppe Vecchiaro, che le nonne raccontavano ai bambini.</p>
<p>Passiamo alla seconda figura, forse la più poetica. La levatrice.</p>
<p>La comare, la comadre. Una seconda mamma. In un'epoca in cui si partoriva in casa, lei era presente in ogni nascita del paese.</p>
<p>E le famiglie erano numerose, nidiate di bambini, dicono le fonti.</p>
<p>Sì, e c'è un nome che emerge, la signora Gina Giacomazzi di Albano, che ha fatto nascere quasi tutto il paese. Veniva fermata per strada, onorata, e lei chiedeva sempre dei suoi bambini.</p>
<p>Che bel ritratto. E poi il dottore, che invece era tutto un altro discorso.</p>
<p>Questo ci dice una mentalità dove la medicina non era prevenzione, ma un intervento estremo. Chiamare il dottore significava che le cose si erano messe davvero male.</p>
<p>Certo, non era il guaritore empatico di oggi, ma una figura austera che lottava contro la malattia con armi spuntate.</p>
<p>E il ritratto che emerge del dottor Gasperin che esercitò fino agli anni 50 sembra confermare questa immagine. Viene descritto come un uomo duro e scorbutico.</p>
<p>Duro e scorbutico. Ma le note aggiungono subito dopo un dettaglio fondamentale. Sapeva fare bene il suo mestiere.</p>
<p>La competenza prevaleva su tutto. Ma c'è un aspetto affascinante. Le fonti descrivono la levatrice come una sua buona collaboratrice.</p>
<p>Ah, quindi non c'era competizione? No, affatto. Non c'era competizione tra la scienza medica ufficiale e il sapere tradizionale pratico della comare, anzi collaboravano. Un'alleanza pragmatica per la salute della comunità, unendo il meglio di entrambi i mondi. Abbiamo parlato del potere sull'anima e sul corpo. Ora arriviamo al potere che muoveva tutto il resto, quello economico sulla terra. Arriviamo al quarto pilastro, il padrone. Anche se, a dire il vero, le note ci invitano a considerare anche il suo braccio destro, il castaldo.</p>
<p>Vero, una distinzione cruciale. Sì, il padrone era il proprietario terriero, spesso un nobile o un ricco borghese, una figura distante. Il castaldo era l'amministratore, l'uomo sul campo, lui che aveva i contatti quotidiani con i mezzadri, lui che controllava il lavoro e riscuoteva le quote.</p>
<p>E quindi era lui quello, diciamo, scomodo.</p>
<p>Esatto. Di conseguenza, il rispetto per il padrone era spesso formale e distante, mentre il rapporto con il castaldo era molto più teso, più diretto. Spesso il padrone era visto come più accomodante, proprio perché non doveva sporcarsi le mani con la gestione quotidiana.</p>
<p>E al di là di quanto previsto dal contratto di mezzadria, al padrone spettava quello che le fonti chiamano, con un linguaggio quasi cerimoniale, il tributo delle onoranze. Ma di cosa si trattava in pratica? Era un regalo obbligato?</p>
<p>Erano obblighi travestiti da omaggi. Un tributo di sottomissione che seguiva il calendario religioso. La gallina e le uova a Pasqua, il cappone a Natale.</p>
<p>Ah, sempre legati alle feste, sempre. Non era un pagamento. Era un atto simbolico che ribadiva costantemente la gerarchia sociale. Io ti porto questo dono non perché ti sono debitore, ma perché sei il padrone e io il contadino.</p>
<p>Esatto, pura espressione delle forme, dovute al rispetto, uno status che doveva essere visibile a tutti in pubblico.</p>
<p>Esatto. Ogni volta che c'erano cerimonie ufficiali pubbliche, il padrone e le autorità occupavano i primi posti nelle cerimonie civili e religiose. E c'è un aneddoto che forse è il più emblematico di tutti, davvero, quello di un nobile locale che non andava in casa di sua proprietà.</p>
<p>No, si faceva precedere da un contadino il cui unico compito era entrare prima, occupargli il posto in prima fila e tenerlo caldo fino al suo arrivo.</p>
<p>Ma non è questo il dettaglio più incredibile?</p>
<p>No, il dettaglio più incredibile è che la messa non iniziava finché il Signore non era arrivato e si era accomodato al suo posto.</p>
<p>La messa non iniziava. Assurdo.</p>
<p>È un'immagine che cristallizza una struttura sociale rigida, quasi feudale. La funzione religiosa stessa, il momento più sacro per la comunità, era subordinata alla gerarchia terrena del padrone. Il tempo di Dio doveva aspettare il comodo del Signore. Le fonti definiscono queste usanze difetti ormai di storia passata e cancellata. Ma mi chiedo, questa sottomissione era totale? I contadini accettavano passivamente questo che lui stesso definisce assurdità. Qui le note ci offrono una sfumatura psicologica importantissima. No, non era un'accettazione passiva.</p>
<p>Ah, ecco.</p>
<p>L'autore scrive che la gente dei campi sapeva riconoscere in cuor suo la meschinità di certe manifestazioni.</p>
<p>Esatto. Non c'era la forza o la cultura per una ribellione aperta, ma nell'intimità della coscienza sapevano distinguere il rispetto dovuto dal sopruso ridicolo.</p>
<p>E forse questa sopportazione era alimentata da un'unica grande speranza che covava sotto la cenere, un obiettivo che secondo le fonti era il motore di tutto.</p>
<p>L'acquisizione della proprietà della terra che lavoravano. Era questa l'ossessione, il sogno, la corrente sotterranea che muoveva la loro vita.</p>
<p>Certo, possedere la terra significava affrancarsi da tutta la rete di dipendenze, dal castaldo, dagli omaggi al padrone, da una vita di precarietà. Significava diventare finalmente padroni del proprio destino. Abbiamo dunque i quattro pilastri, ma c'è un'ultima figura che l'autore cita come di minore importanza. Non detenere un potere formale, ma uno forse è ancora più grande.</p>
<p>Il postino, o meglio, come specificano le note, la postina.</p>
<p>Proprio lei, una figura che non deteneva potere, ma era depositaria di un enorme potere emotivo. Era attesa con un misto di gioia e trepidazione così esteriori. C'era una consapevolezza nascosta, un giudizio sospeso.</p>
<p>Come sappiamo ma capirarlo.</p>
<p>Immagino.</p>
<p>Era il collegamento con il mondo esterno, un mondo lontano e spesso sconosciuto. Portava le lettere degli emigranti, le cartoline dei soldati al fronte, le notizie buone o quelle terribili. Immaginiamo cosa significasse vederla arrivare in un casolare isolato, specialmente in tempo di guerra.</p>
<p>Poteva portare una dichiarazione d'amore o un telegramma che annunciava una morte.</p>
<p>Esatto. Era il destino che arrivava in bicicletta.</p>
<p>E anche in questa figura le fonti colgono il segno del cambiamento. La postina, che una volta si spostava in bicicletta a un certo punto è arrivata con la sua 500. Il piccolo dettaglio che segna il passaggio da un'epoca all'altra.</p>
<p>Un simbolo perfetto del progresso che avrebbe smantellato e trasformato radicalmente quella società.</p>
<p>Tirando le somme abbiamo visto come queste figure, monsignore, levatrice, dottore, padrone, fossero molto più che semplici professionisti. Erano gli architravi di una società, incarnando rispettivamente il potere spirituale, il potere sulla vita, il potere sulla malattia e il potere sulla terra.</p>
<p>Esatto.</p>
<p>L'aspetto fondamentale, però, è che questi ruoli riflettono bisogni e strutture sociali che non sono affatto scomparsi, sono costanti umane.</p>
<p>Certo.</p>
<p>Abbiamo ancora bisogno di una guida, che sia spirituale, etica o intellettuale, abbiamo ancora bisogno di cura nel momento della nascita e della malattia, anche se ora ci affidiamo a sistemi sanitari complessi e la dinamica di potere economico sono oggi più che mai al centro della nostra vita. Le forme sono cambiate, ma i bisogni fondamentali sono gli stessi e questo ci porta a una riflessione finale, un pensiero da lasciare. Abbiamo visto che l'obiettivo primario, quasi l'unica speranza di riscatto per il mondo contadino, era uno solo, arrivare a possedere la terra che si lavorava e questa costante tensione verso un obiettivo, le nostre fonti e anche fino a noi.</p>
<p>Cosa succede a questa complessa rete di poteri, doveri e rispetto quando quell'obiettivo primario viene finalmente raggiunto o quando non ha più senso?</p>
<p>Ecco, cambia tutto. Quando la Terra non è più l'orizzonte principale di speranza e di riscatto, i ruoli dell'autorità si trasformano.</p>
<p>Come si trasformano i ruoli dell'autorità, la guida spirituale, il guardiano della comunità, il detentore del potere economico in una società come la nostra che quel sogno l'ha realizzato o forse l'ha smesso di sognarlo?</p>
<p>È una domanda aperta. Forse oggi la guida spirituale è diventata frammentata, il sapere medico è istituzionale, e il potere economico è impersonale, lontano, quasi invisibile.</p>
<p>Eppure quei bisogni restano.</p>
<p>Restano. Abbiamo ancora bisogno di qualcuno che ci accolga quando nasciamo, di qualcuno che ci curi quando stiamo male, di qualcuno che ci dica cosa è giusto e di un modo per guadagnarci da vivere.</p>
<p>E magari anche di qualcuno che ci porti notizie dal mondo.</p>
<p>La postina di oggi è lo smartphone, forse.</p>
<p>Sì, ma senza il volto, senza la trepidazione di vederla arrivare lungo la strada bianca.</p>
<p>Ed è forse questo che le note ci lasciano: la memoria di una comunità in cui ogni ruolo aveva un volto, un nome, una storia.</p>
<p>La signora Gina, il dottor Gasperin, il monsignore, il castaldo. Persone in carne e ossa, non istituzioni astratte.</p>
<p>Esatto. E il loro ricordo ci aiuta a capire da dove veniamo, e forse anche dove stiamo andando.</p>
<p>Grazie per averci accompagnato in questo viaggio nel borgo di campagna lombardo veneto tra Ottocento e Novecento.</p>
<p>Alla prossima.</p>
<p>Ci ritroviamo alla prossima puntata, con nuove note storiche e nuovi ritratti di un mondo che, pur scomparso, continua a parlarci attraverso le voci dei nostri nonni, le loro preghiere, le loro fatiche e i loro sogni di riscatto. Perché ogni borgo conserva una memoria che merita di essere raccontata, ascoltata e tramandata alle generazioni future, affinché non vada perduta.</p>
<p>E ricordate: dietro ogni campo arato, dietro ogni campanile, c'è una storia di uomini e donne che hanno costruito, con fatica e dignità, il mondo in cui oggi viviamo.</p>
<p>Quali erano i rapporti tra il monsignore e il padrone del borgo? Come si svolgeva concretamente la divisione del raccolto a San Martino? Perché la postina era attesa con tanta trepidazione in tempo di guerra?</p>
</div>
<div class="lb" style="left:4300px;top:4676px;">2.13.1</div>

</body>
</html>
